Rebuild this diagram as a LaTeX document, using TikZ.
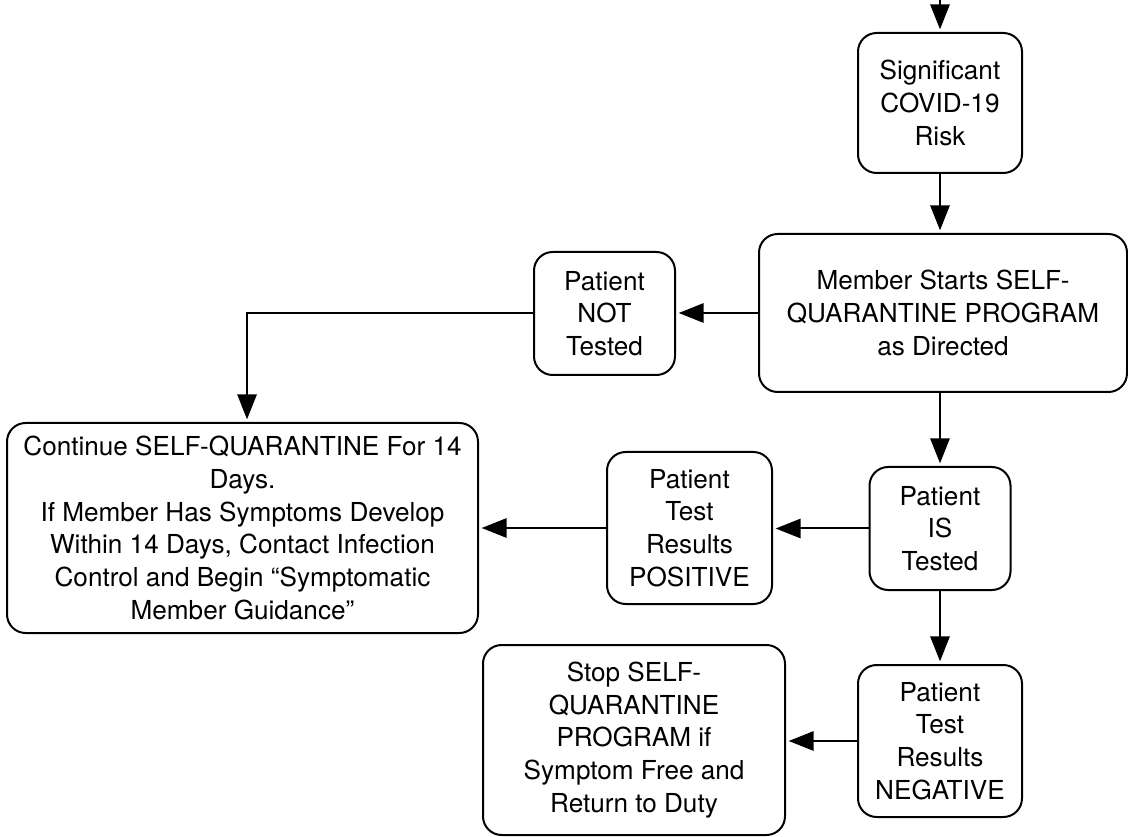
\documentclass[tikz,border=0pt]{standalone}
\usepackage{fontspec}
\setmainfont{TeX Gyre Heros}
\usetikzlibrary{arrows.meta}
\begin{document}
\begin{tikzpicture}[x=0.75pt,y=-0.75pt,
  box/.style={draw, line width=1.5pt, rounded corners=14pt, align=center, inner sep=0pt,
    font=\fontsize{19.6}{24.6}\selectfont},
  conn/.style={line width=1.5pt, -{Triangle[length=18.75pt,width=14.5pt]}, shorten >=2pt}]
\useasboundingbox (0,0) rectangle (1128,837);
\coordinate (start) at (940,0);
\node[box, minimum width=123pt, minimum height=105pt] (sig) at (940,103) {Significant\\COVID-19\\Risk};
\node[box, minimum width=276pt, minimum height=118.5pt] (mem) at (943,313) {Member Starts SELF-\\QUARANTINE PROGRAM\\as Directed};
\node[box, minimum width=105.75pt, minimum height=92.25pt] (not) at (604.5,313.5) {Patient\\NOT\\Tested};
\node[box, minimum width=353.25pt, minimum height=157.5pt] (cont) at (242.5,528) {Continue SELF-QUARANTINE For 14\\Days.\\If Member Has Symptoms Develop\\Within 14 Days, Contact Infection\\Control and Begin “Symptomatic\\Member Guidance”};
\node[box, minimum width=123.75pt, minimum height=114pt] (pos) at (689.5,528) {Patient\\Test\\Results\\POSITIVE};
\node[box, minimum width=105.75pt, minimum height=92.25pt] (is) at (940,528.5) {Patient\\IS\\Tested};
\node[box, minimum width=123pt, minimum height=114pt] (neg) at (940,741) {Patient\\Test\\Results\\NEGATIVE};
\node[box, minimum width=226.5pt, minimum height=142.5pt] (stop) at (634,740) {Stop SELF-\\QUARANTINE\\PROGRAM if\\Symptom Free and\\Return to Duty};
\draw[conn] (start) -- (sig.north);
\draw[conn] (sig.south) -- (sig.south |- mem.north);
\draw[conn] (mem.west) -- (not.east |- mem.west);
\draw[conn] (not.west) -| ([xshift=3.4pt]cont.north);
\draw[conn] (is.north |- mem.south) -- (is.north);
\draw[conn] (is.west) -- (pos.east |- is.west);
\draw[conn] (pos.west) -- (cont.east |- pos.west);
\draw[conn] (is.south) -- (neg.north);
\draw[conn] (neg.west) -- (stop.east |- neg.west);
\end{tikzpicture}
\end{document}
